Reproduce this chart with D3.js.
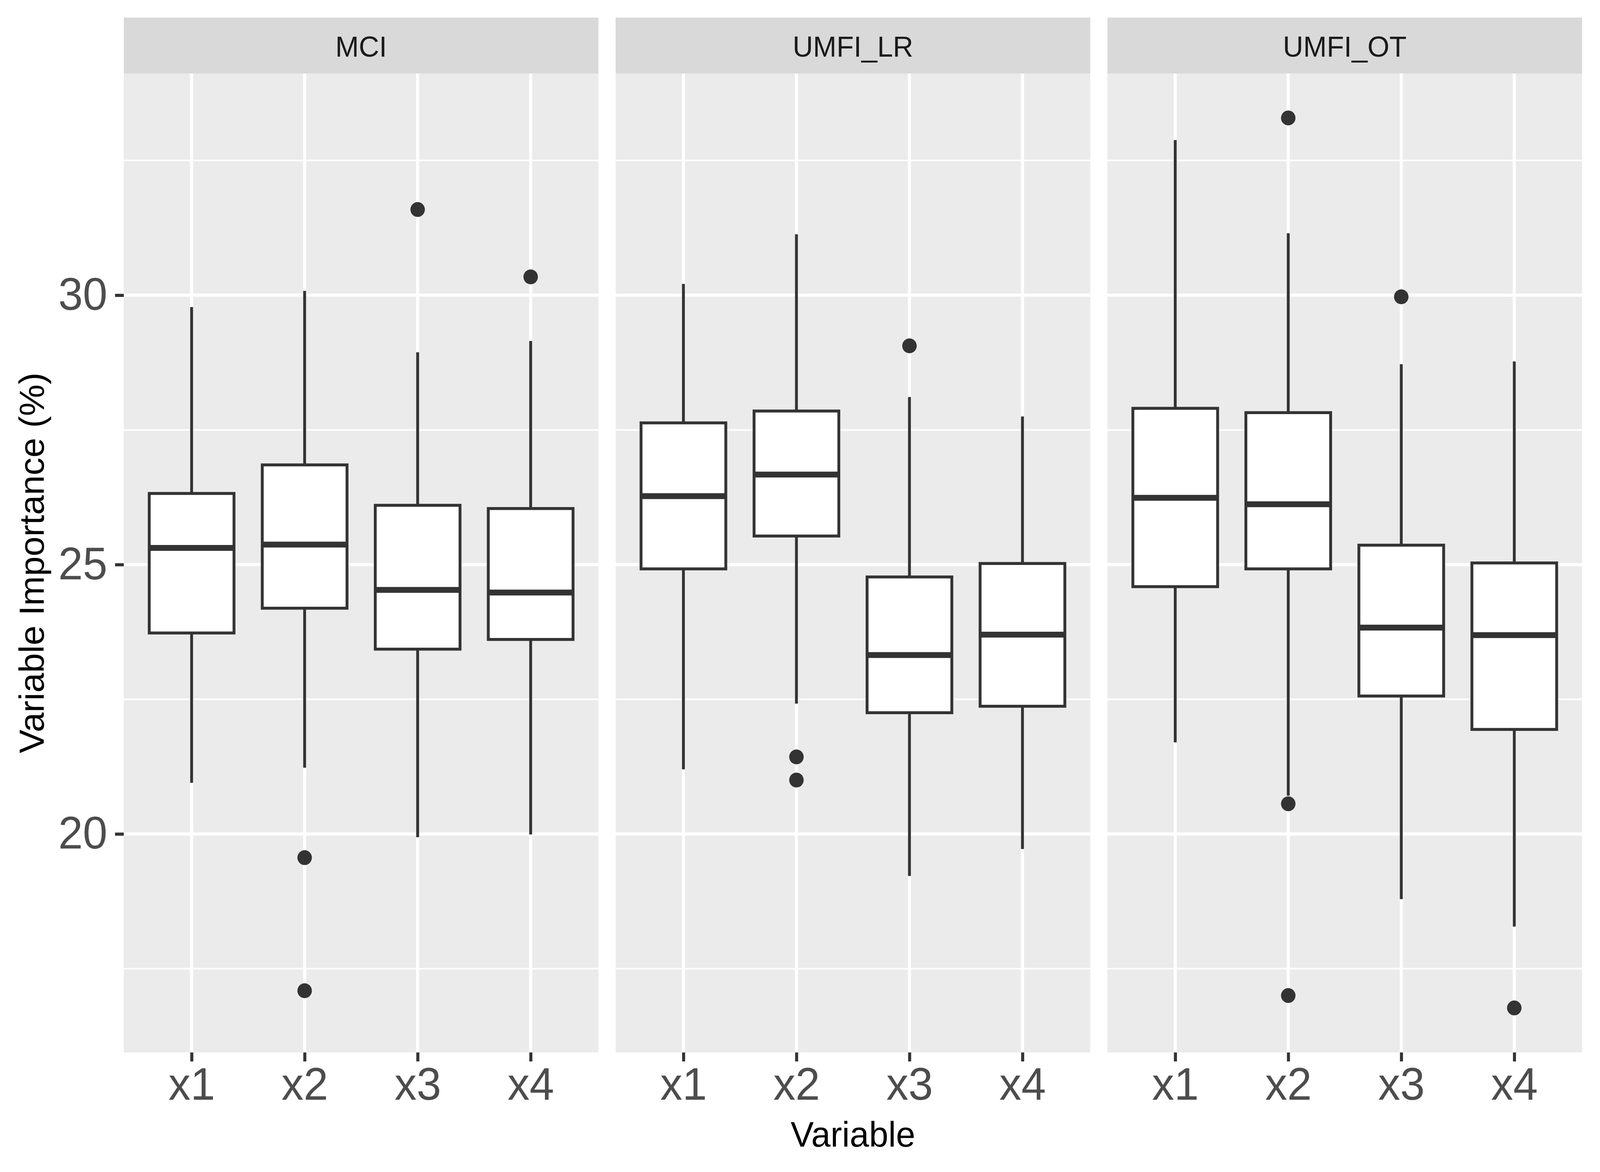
<!DOCTYPE html>
<html>
<head>
<meta charset="utf-8">
<script src="https://cdn.jsdelivr.net/npm/d3@7"></script>
<style>
  html, body { margin: 0; padding: 0; overflow: hidden; background: #fff; }
  svg { display: block; width: 100vw; height: 100vh; }
  text { font-family: "Liberation Sans", Arial, sans-serif; }
</style>
</head>
<body>
<script>
(function () {
  'use strict'

  // facets and categories
  var facets = ['MCI', 'UMFI_LR', 'UMFI_OT']
  var variables = ['x1', 'x2', 'x3', 'x4']

  // box statistics, one row per facet, one column per variable
  var whiskerLow = [
    [20.95, 21.23, 19.94, 19.99],
    [21.20, 22.42, 19.22, 19.72],
    [21.70, 20.71, 18.79, 18.28]
  ]
  var q1 = [
    [23.73, 24.19, 23.43, 23.61],
    [24.92, 25.53, 22.25, 22.37],
    [24.59, 24.92, 22.56, 21.94]
  ]
  var median = [
    [25.31, 25.37, 24.53, 24.48],
    [26.27, 26.67, 23.32, 23.70],
    [26.24, 26.12, 23.83, 23.69]
  ]
  var q3 = [
    [26.32, 26.85, 26.10, 26.04],
    [27.63, 27.85, 24.77, 25.02],
    [27.90, 27.82, 25.36, 25.03]
  ]
  var whiskerHigh = [
    [29.78, 30.08, 28.94, 29.15],
    [30.21, 31.13, 28.11, 27.75],
    [32.88, 31.15, 28.72, 28.77]
  ]
  var outliers = [
    [[], [19.56, 17.09], [31.59], [30.34]],
    [[], [21.43, 21.00], [29.06], []],
    [[], [33.29, 20.56, 17.00], [29.97], [16.77]]
  ]

  var yTicks = [20, 25, 30]
  var yMinor = [17.5, 22.5, 27.5, 32.5]

  var W = 4200
  var H = 3000
  var panelTop = 188
  var panelBottom = 2694
  var stripTop = 45
  var panelLeft = 325
  var panelW = 1246
  var panelGap = 45

  // drawn in a fixed 4200x3000 frame, stretched to whatever the window shows
  var svg = d3.select('body').append('svg')
    .attr('viewBox', '0 0 ' + W + ' ' + H)
    .attr('preserveAspectRatio', 'none')

  // y range from all values, 5% expansion like ggplot
  var all = []
  facets.forEach(function (f, i) {
    all = all.concat(whiskerLow[i], whiskerHigh[i])
    outliers[i].forEach(function (o) { all = all.concat(o) })
  })
  var lo = d3.min(all)
  var hi = d3.max(all)
  var pad = (hi - lo) * 0.05
  var y = d3.scaleLinear()
    .domain([lo - pad, hi + pad])
    .range([panelBottom, panelTop])

  var lineCol = '#333333'
  var lw = 7.5

  facets.forEach(function (f, i) {
    var x0 = panelLeft + i * (panelW + panelGap)
    var x = d3.scalePoint()
      .domain(variables)
      .range([x0, x0 + panelW])
      .padding(0.6)
    var step = x.step()
    var boxW = step * 0.75

    var g = svg.append('g')

    // strip
    g.append('rect')
      .attr('x', x0).attr('y', stripTop)
      .attr('width', panelW).attr('height', panelTop - stripTop)
      .attr('fill', '#D9D9D9')
    g.append('text')
      .attr('x', x0 + panelW / 2).attr('y', 145)
      .attr('text-anchor', 'middle')
      .attr('font-size', 74)
      .attr('fill', '#1A1A1A')
      .text(f)

    // panel background
    g.append('rect')
      .attr('x', x0).attr('y', panelTop)
      .attr('width', panelW).attr('height', panelBottom - panelTop)
      .attr('fill', '#EBEBEB')

    // grid
    g.selectAll('.minor').data(yMinor).enter().append('line')
      .attr('x1', x0).attr('x2', x0 + panelW)
      .attr('y1', function (d) { return y(d) })
      .attr('y2', function (d) { return y(d) })
      .attr('stroke', '#fff').attr('stroke-width', 4)
    g.selectAll('.major').data(yTicks).enter().append('line')
      .attr('x1', x0).attr('x2', x0 + panelW)
      .attr('y1', function (d) { return y(d) })
      .attr('y2', function (d) { return y(d) })
      .attr('stroke', '#fff').attr('stroke-width', 8)
    g.selectAll('.vgrid').data(variables).enter().append('line')
      .attr('x1', function (d) { return x(d) })
      .attr('x2', function (d) { return x(d) })
      .attr('y1', panelTop).attr('y2', panelBottom)
      .attr('stroke', '#fff').attr('stroke-width', 8)

    // boxes
    variables.forEach(function (v, j) {
      var cx = x(v)
      g.append('line')
        .attr('x1', cx).attr('x2', cx)
        .attr('y1', y(q3[i][j])).attr('y2', y(whiskerHigh[i][j]))
        .attr('stroke', lineCol).attr('stroke-width', lw)
      g.append('line')
        .attr('x1', cx).attr('x2', cx)
        .attr('y1', y(q1[i][j])).attr('y2', y(whiskerLow[i][j]))
        .attr('stroke', lineCol).attr('stroke-width', lw)
      g.append('rect')
        .attr('x', cx - boxW / 2)
        .attr('y', y(q3[i][j]))
        .attr('width', boxW)
        .attr('height', y(q1[i][j]) - y(q3[i][j]))
        .attr('fill', '#fff')
        .attr('stroke', lineCol).attr('stroke-width', lw)
      g.append('line')
        .attr('x1', cx - boxW / 2).attr('x2', cx + boxW / 2)
        .attr('y1', y(median[i][j])).attr('y2', y(median[i][j]))
        .attr('stroke', lineCol).attr('stroke-width', lw * 2)
      g.selectAll(null).data(outliers[i][j]).enter().append('circle')
        .attr('cx', cx)
        .attr('cy', function (d) { return y(d) })
        .attr('r', 19)
        .attr('fill', lineCol)
    })

    // x axis
    var xa = g.append('g')
      .attr('transform', 'translate(0,' + panelBottom + ')')
      .call(d3.axisBottom(x).tickSize(23).tickPadding(16))
    xa.select('.domain').remove()
    xa.selectAll('.tick line').attr('stroke', lineCol).attr('stroke-width', 8)
    xa.selectAll('.tick text')
      .attr('font-family', '"Liberation Sans", Arial, sans-serif')
      .attr('font-size', 116)
      .attr('fill', '#4D4D4D')

    // y axis on first panel
    if (i === 0) {
      var ya = g.append('g')
        .attr('transform', 'translate(' + x0 + ',0)')
        .call(d3.axisLeft(y).tickValues(yTicks).tickSize(23).tickPadding(20))
      ya.select('.domain').remove()
      ya.selectAll('.tick line').attr('stroke', lineCol).attr('stroke-width', 8)
      ya.selectAll('.tick text')
        .attr('font-family', '"Liberation Sans", Arial, sans-serif')
        .attr('font-size', 116)
        .attr('fill', '#4D4D4D')
    }
  })

  // axis titles
  var plotCenterX = panelLeft + (3 * panelW + 2 * panelGap) / 2
  svg.append('text')
    .attr('x', plotCenterX).attr('y', 2935)
    .attr('text-anchor', 'middle')
    .attr('font-size', 91)
    .attr('fill', '#000')
    .text('Variable')
  svg.append('text')
    .attr('transform', 'translate(115,' + (panelTop + panelBottom) / 2 + ') rotate(-90)')
    .attr('text-anchor', 'middle')
    .attr('font-size', 91)
    .attr('fill', '#000')
    .text('Variable Importance (%)')
}())
</script>
</body>
</html>
